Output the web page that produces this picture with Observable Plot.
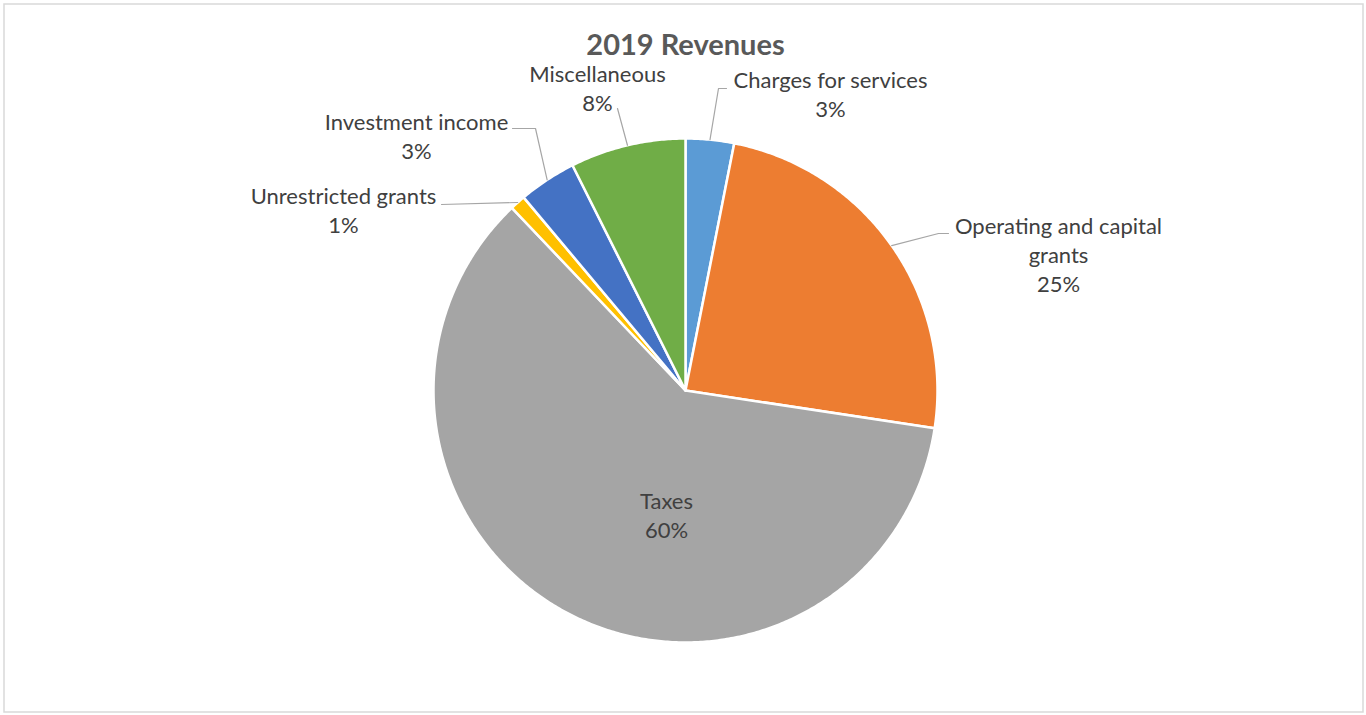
<!DOCTYPE html>
<html>
<head>
<meta charset="utf-8">
<script src="https://cdn.jsdelivr.net/npm/d3@7"></script>
<script src="https://cdn.jsdelivr.net/npm/@observablehq/plot@0.6"></script>
<style>
  html, body { margin: 0; padding: 0; background: #fff; }
  #chart svg { display: block; }
</style>
</head>
<body>
<div id="chart"></div>
<script>
// ---- data ----
const title = "2019 Revenues";
const categories = ["Charges for services", "Operating and capital grants", "Taxes", "Unrestricted grants", "Investment income", "Miscellaneous"];
const labelNames = ["Charges for services", "Operating and capital\ngrants", "Taxes", "Unrestricted grants", "Investment income", "Miscellaneous"];
const values = [3.1, 24.3, 60.5, 1.0, 3.7, 7.4];
const pctLabels = ["3%", "25%", "60%", "1%", "3%", "8%"];
const colors = ["#5B9BD5", "#ED7D31", "#A5A5A5", "#FFC000", "#4472C4", "#70AD47"];

// ---- layout (pixel space) ----
const W = 1366, H = 715;
const cx = 685, cy = 390, R = 252;
// label block centre and leader-line elbow/end (null = no leader line)
const labelLayout = [
  {x: 830, y: 93, elbow: [718, 88], end: [726, 88]},
  {x: 1058, y: 253, elbow: [938, 233], end: [948, 233]},
  {x: 666, y: 514, elbow: null, end: null},
  {x: 343, y: 209, elbow: [441, 204], end: [441, 204]},
  {x: 416, y: 135, elbow: [535, 128], end: [512, 128]},
  {x: 597, y: 87, elbow: [617, 108], end: [617, 108]}
];

const arcs = d3.pie().sort(null).value(d => d).startAngle(0).endAngle(2 * Math.PI)(values);
const pt = (a, r) => [cx + r * Math.sin(a), cy - r * Math.cos(a)];

const slicePts = [];
arcs.forEach((a, i) => {
  const name = categories[i];
  slicePts.push({name, x: cx, y: cy});
  const n = Math.max(4, Math.ceil((a.endAngle - a.startAngle) / (Math.PI / 360)));
  for (let k = 0; k <= n; k++) {
    const ang = a.startAngle + (a.endAngle - a.startAngle) * k / n;
    const [x, y] = pt(ang, R);
    slicePts.push({name, x, y});
  }
  slicePts.push({name, x: cx, y: cy});
});

const leaderPts = [];
arcs.forEach((a, i) => {
  const L = labelLayout[i];
  if (!L.elbow) return;
  const mid = (a.startAngle + a.endAngle) / 2;
  const [sx, sy] = pt(mid, R);
  leaderPts.push({id: i, x: sx, y: sy});
  leaderPts.push({id: i, x: L.elbow[0], y: L.elbow[1]});
  leaderPts.push({id: i, x: L.end[0], y: L.end[1]});
});

const labels = categories.map((c, i) => ({
  text: labelNames[i] + "\n" + pctLabels[i],
  x: labelLayout[i].x,
  y: labelLayout[i].y
}));

const font = "Lato, 'Open Sans', sans-serif";

const chart = Plot.plot({
  width: W,
  height: H,
  margin: 0,
  style: {fontFamily: font, background: "#fff"},
  x: {domain: [0, W], range: [0, W], axis: null},
  y: {domain: [0, H], range: [0, H], axis: null},
  color: {domain: categories, range: colors},
  marks: [
    Plot.frame({stroke: "#d9d9d9", strokeWidth: 1.5, inset: 3.5}),
    Plot.line(slicePts, {x: "x", y: "y", z: "name", fill: "name", stroke: "#ffffff", strokeWidth: 2.5, strokeLinejoin: "round", curve: "linear"}),
    Plot.line(leaderPts, {x: "x", y: "y", z: "id", stroke: "#a6a6a6", strokeWidth: 1.2, curve: "linear"}),
    Plot.text(labels, {x: "x", y: "y", text: "text", fill: "#404040", fontSize: 22, lineHeight: 1.32, lineAnchor: "middle", textAnchor: "middle"}),
    Plot.text([title], {x: () => cx, y: () => 45, text: d => d, fill: "#595959", fontSize: 29, fontWeight: "bold", textAnchor: "middle", lineAnchor: "middle"})
  ]
});
document.getElementById("chart").appendChild(chart);
</script>
</body>
</html>
